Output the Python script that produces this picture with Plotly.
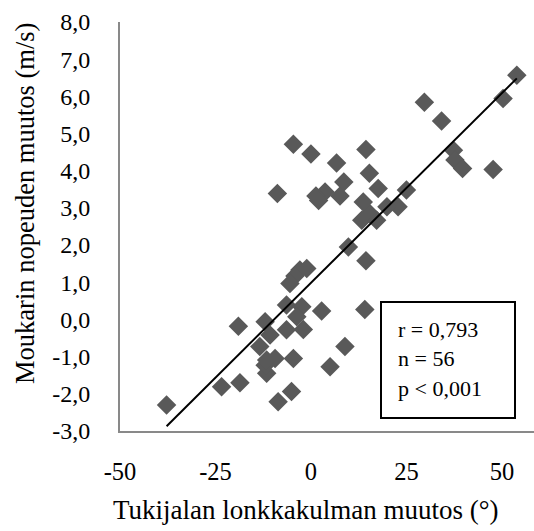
import numpy as np
import plotly.graph_objects as go

# Change in support-leg hip angle (deg) and change in hammer speed (m/s)
hip_angle_change = [
    53.9, 50.3, 29.7, 34.2, 37.3, 37.7, 39.7, 47.7, 25.0, 22.8,
    19.9, 13.3, 15.4, 17.2, 13.7, 17.6, 15.3, 14.4, 8.6, 7.6,
    6.7, 3.7, 1.3, 0.0, -4.6, -8.8, 9.8, 14.4, -2.9, -4.2,
    -5.5, -6.4, -2.4, 2.8, 14.1, -6.4, -2.0, 8.9, 5.0, -4.6,
    -5.1, -8.6, -9.4, -11.6, -12.0, -10.7, -13.4, -12.0, -19.0, -18.6,
    -23.4, -37.8, -1.1, -3.7, -11.6, 2.0,
]
speed_change = [
    6.57, 5.94, 5.84, 5.34, 4.55, 4.29, 4.06, 4.03, 3.48, 3.03,
    3.03, 2.67, 2.85, 2.67, 3.16, 3.52, 3.93, 4.57, 3.70, 3.32,
    4.21, 3.43, 3.32, 4.45, 4.71, 3.39, 1.95, 1.58, 1.33, 1.17,
    0.97, 0.39, 0.34, 0.23, 0.27, -0.28, -0.27, -0.73, -1.27, -1.05,
    -1.94, -2.21, -1.05, -1.45, -1.23, -0.42, -0.73, -0.06, -0.18, -1.70,
    -1.81, -2.30, 1.37, 0.07, -1.09, 3.20,
]

# Linear trendline coefficients
trend_slope = 0.102
trend_intercept = 0.985

x_ticks = [-50, -25, 0, 25, 50]
x_tick_labels = ["-50", "-25", "0", "25", "50"]
y_ticks = [8, 7, 6, 5, 4, 3, 2, 1, 0, -1, -2, -3]
y_tick_labels = ["8,0", "7,0", "6,0", "5,0", "4,0", "3,0", "2,0", "1,0",
                 "0,0", "-1,0", "-2,0", "-3,0"]
stats_lines = ["r = 0,793", "n = 56", "p < 0,001"]
x_title = "Tukijalan lonkkakulman muutos (°)"
y_title = "Moukarin nopeuden muutos (m/s)"

x = np.array(hip_angle_change)
y = np.array(speed_change)
fit_x = np.array([x.min(), x.max()])
fit_y = trend_slope * fit_x + trend_intercept

FONT = "Liberation Serif, Times New Roman, serif"
W, H = 534, 531
ML, MR, MT, MB = 120, 0, 22, 100
PW, PH = W - ML - MR, H - MT - MB


def px(xp):
    return (xp - ML) / PW


def py(yp):
    return (H - MB - yp) / PH


fig = go.Figure()
fig.add_trace(go.Scatter(
    x=x, y=y, mode="markers",
    marker=dict(symbol="diamond", size=15, color="#595959", line=dict(width=0)),
    showlegend=False,
))
fig.add_trace(go.Scatter(
    x=fit_x, y=fit_y, mode="lines",
    line=dict(color="black", width=2),
    showlegend=False,
))

fig.update_layout(
    width=W, height=H,
    margin=dict(l=ML, r=MR, t=MT, b=MB),
    plot_bgcolor="white", paper_bgcolor="white",
    font=dict(family=FONT, size=24, color="black"),
    xaxis=dict(
        range=[-50, 58.4], tickvals=x_ticks, ticktext=x_tick_labels,
        showgrid=False, zeroline=False,
        showline=True, linecolor="#898989", linewidth=2,
        ticks="outside", ticklen=18, tickcolor="rgba(0,0,0,0)",
        tickfont=dict(size=24.5),
    ),
    yaxis=dict(
        range=[-3, 8], tickvals=y_ticks, ticktext=y_tick_labels,
        showgrid=False, zeroline=False,
        showline=True, linecolor="#898989", linewidth=2,
        ticks="outside", ticklen=23, tickcolor="rgba(0,0,0,0)",
        tickfont=dict(size=24),
    ),
)

# Axis titles
fig.add_annotation(xref="paper", yref="paper", x=px(306), y=py(510),
                   text=x_title, showarrow=False, xanchor="center", yanchor="middle",
                   font=dict(size=27, family=FONT))
fig.add_annotation(xref="paper", yref="paper", x=px(25), y=py(204),
                   text=y_title, showarrow=False, textangle=-90,
                   xanchor="center", yanchor="middle",
                   font=dict(size=26.5, family=FONT))

# Statistics box
fig.add_shape(type="rect", xref="paper", yref="paper",
              x0=px(381), x1=px(515), y0=py(418), y1=py(302),
              line=dict(color="black", width=2), fillcolor="white")
for i, line in enumerate(stats_lines):
    fig.add_annotation(xref="paper", yref="paper",
                       x=px(396), y=py(329 + 29.5 * i),
                       text=line, showarrow=False, xanchor="left", yanchor="middle",
                       font=dict(size=22, family=FONT))

fig.write_html("out.html")
